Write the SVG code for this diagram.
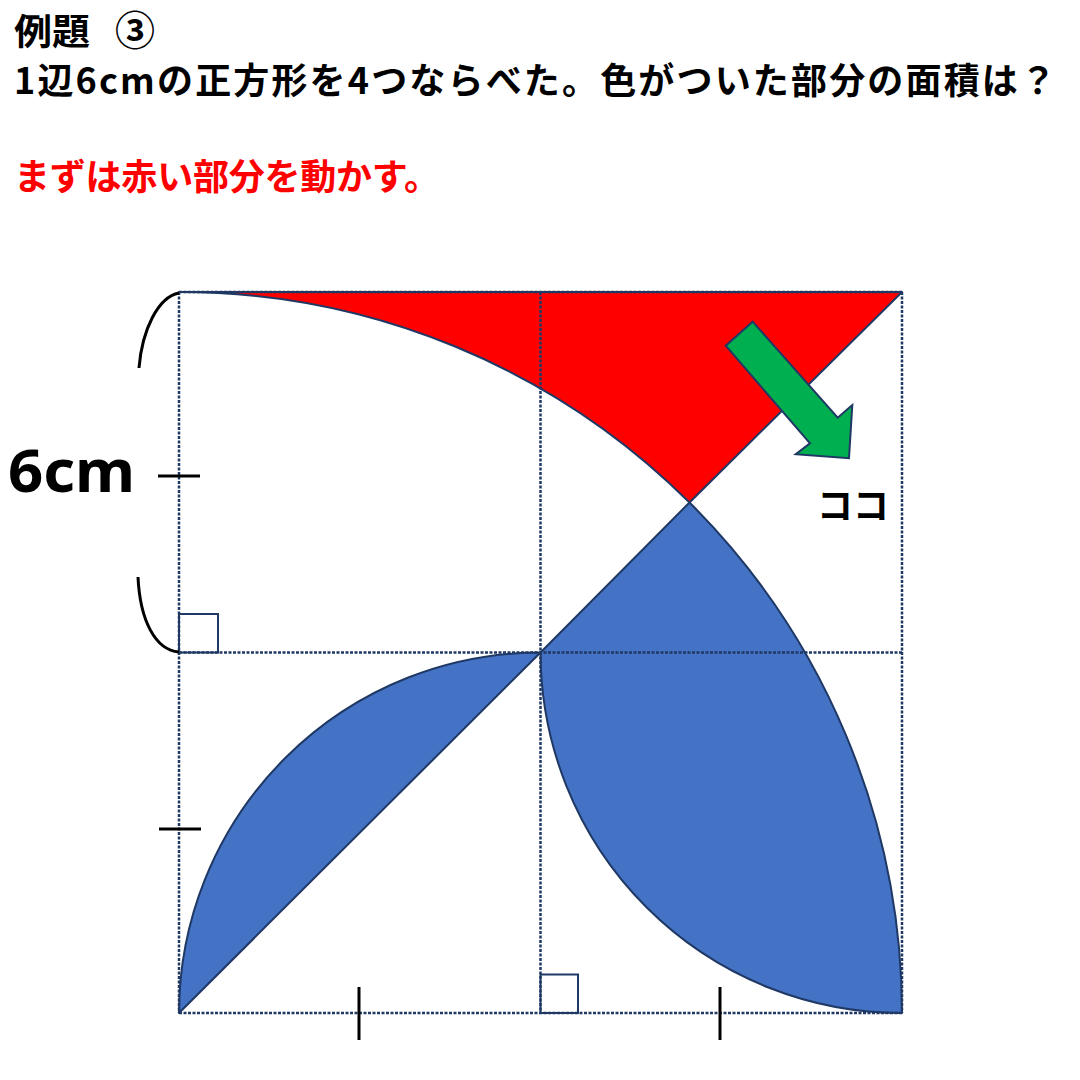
<svg xmlns="http://www.w3.org/2000/svg" width="1080" height="1080" viewBox="0 0 1080 1080">
<style>
.t{font-family:"Noto Sans CJK JP","Noto Sans",sans-serif;font-weight:700;}
.shape{stroke:#1f3864;stroke-width:2;stroke-linejoin:round;}
.grid{stroke:#1f3864;stroke-width:2.5;stroke-dasharray:3 1.5;fill:none;}
.tick{stroke:#000;stroke-width:3;fill:none;}
.ra{fill:none;stroke:#1f3864;stroke-width:2;}
</style>
<rect width="1080" height="1080" fill="#fff"/>
<g id="title">
<text class="t" x="14" y="45" font-size="36" fill="#000" textLength="76" lengthAdjust="spacingAndGlyphs">例題</text>
<text class="t" x="115" y="45" font-size="40" fill="#000">③</text>
<text class="t" x="14" y="94" font-size="36" fill="#000" textLength="1042" lengthAdjust="spacing">1辺6cmの正方形を4つならべた。色がついた部分の面積は？</text>
<text class="t" x="14" y="190" font-size="36" fill="#ff0000" textLength="426" lengthAdjust="spacing">まずは赤い部分を動かす。</text>
</g>
<g id="red-region">
<path class="shape" fill="#ff0000" d="M179,292 L902,292 L689.5,502.5 A722,722 0 0 0 179,292 Z"/>
</g>
<g id="blue-right">
<path class="shape" fill="#4472c4" d="M540.5,652.5 L689.5,502.5 A722,722 0 0 1 902,1013 A361.5,361.5 0 0 1 540.5,652.5 Z"/>
</g>
<g id="blue-left">
<path class="shape" fill="#4472c4" d="M179,1013 L540.5,652.5 A361.5,361.5 0 0 0 179,1013 Z"/>
</g>
<g id="grid">
<line class="grid" x1="179" y1="292" x2="179" y2="1013"/>
<line class="grid" x1="540.5" y1="292" x2="540.5" y2="1013"/>
<line class="grid" x1="902" y1="292" x2="902" y2="1013"/>
<line class="grid" x1="179" y1="292" x2="902" y2="292"/>
<line class="grid" x1="179" y1="652.5" x2="902" y2="652.5"/>
<line class="grid" x1="179" y1="1013" x2="902" y2="1013"/>
</g>
<g id="right-angles">
<rect class="ra" x="179" y="614" width="39" height="38.5"/>
<rect class="ra" x="540.5" y="974.5" width="37.5" height="38.5"/>
</g>
<g id="marks">
<path class="tick" d="M179,293 C158,297 142,330 139,368"/>
<path class="tick" d="M138,577 C140,620 155,650 179,652"/>
<line class="tick" x1="158" y1="476" x2="200" y2="476"/>
<line class="tick" x1="159" y1="829" x2="201" y2="829"/>
<line class="tick" x1="359" y1="987" x2="359" y2="1040"/>
<line class="tick" x1="720" y1="987" x2="720" y2="1040"/>
</g>
<g id="arrow">
<polygon fill="#00b050" stroke="#1f3864" stroke-width="2" stroke-linejoin="miter" points="725.7,345.7 752.7,321.7 837.7,417.7 852.3,405 849,458.3 795.7,454.3 810,443.3"/>
</g>
<g id="labels">
<text class="t" x="8" y="492" font-size="60" fill="#000" textLength="127" lengthAdjust="spacingAndGlyphs" style="font-family:'Noto Sans','DejaVu Sans',sans-serif">6cm</text>
<text class="t" x="817" y="519" font-size="36" fill="#000">ココ</text>
</g>
</svg>
